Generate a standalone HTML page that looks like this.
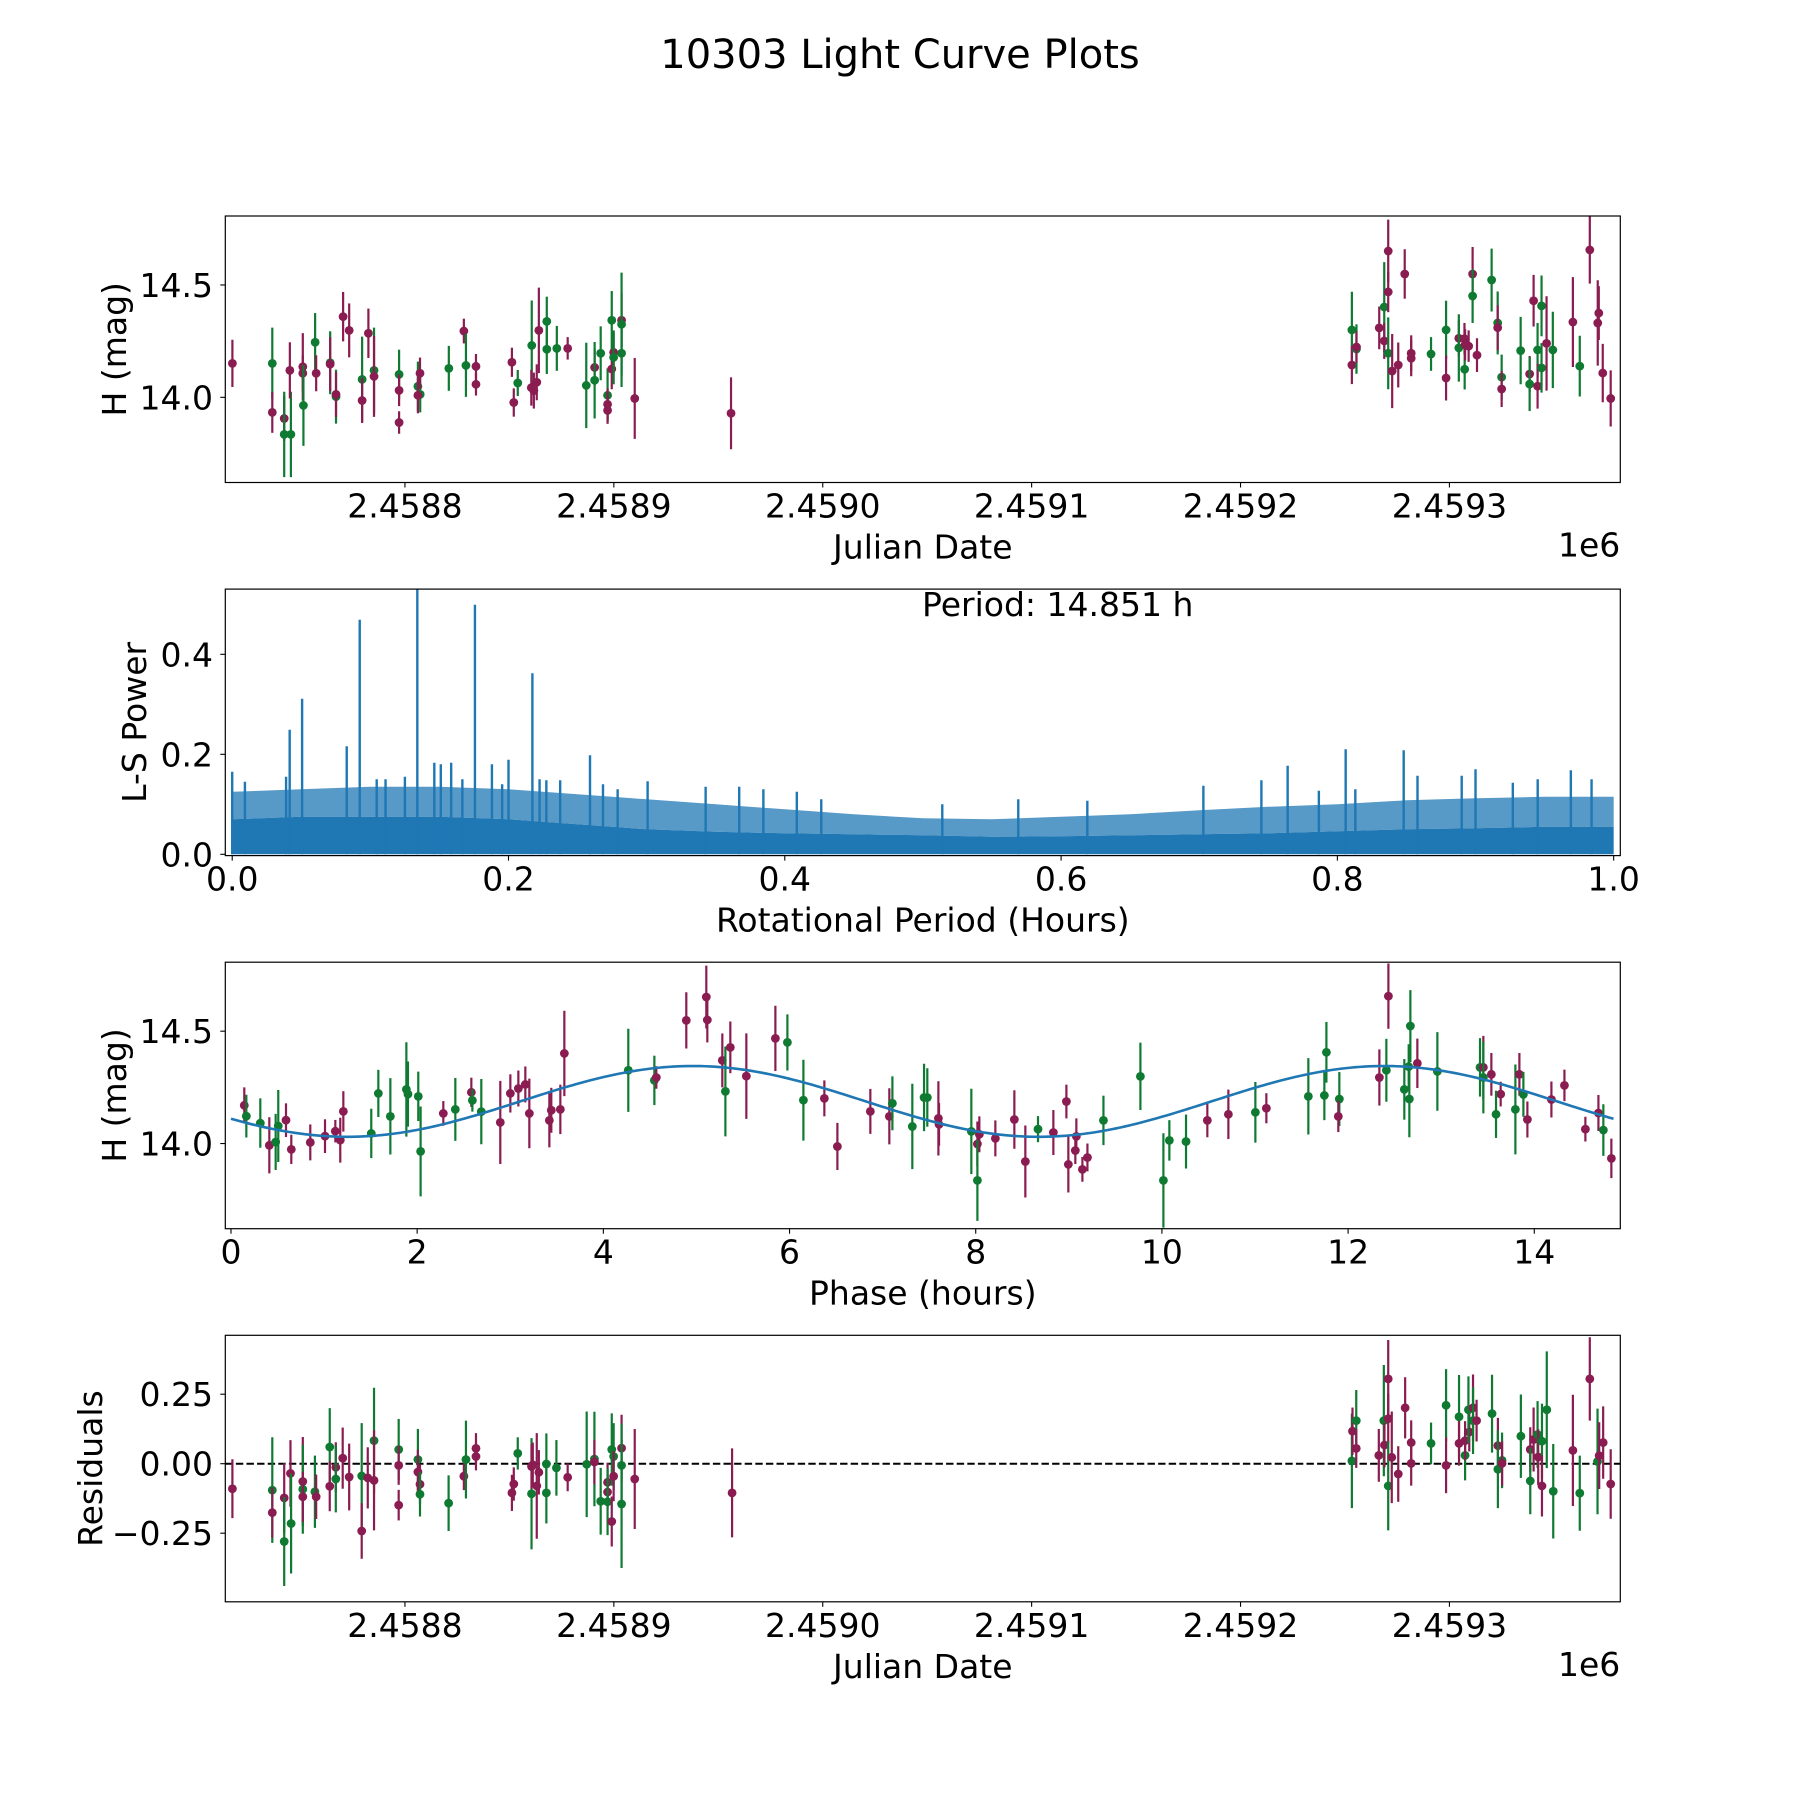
<!DOCTYPE html>
<html><head><meta charset="utf-8"><title>10303 Light Curve Plots</title>
<style>html,body{margin:0;padding:0;background:#fff}svg{display:block}text{font-family:"DejaVu Sans","Liberation Sans",sans-serif;fill:#000}</style>
</head><body>
<svg id="fig" xmlns="http://www.w3.org/2000/svg" width="1800" height="1800" viewBox="0 0 1800 1800">
<rect width="1800" height="1800" fill="#fff"/>
<text x="900" y="68" font-size="40" text-anchor="middle">10303 Light Curve Plots</text>
</svg>
<script>
// ---------- Panel 1: H magnitude vs Julian Date (JD - 2458000) ----------
const jd1 = [717.4,736.5,736.5,742.2,742.2,745.4,744.9,751.1,751.1,751.4,757.0,757.5,764.2,764.2,767.0,767.0,770.4,773.3,779.5,779.5,782.5,785.2,785.2,797.2,797.2,797.2,806.2,807.3,806.2,807.2,821.0,828.2,829.2,834.0,834.0,851.2,852.1,854.0,860.7,860.5,861.7,863.1,864.1,867.9,867.9,872.7,877.9,886.8,890.8,890.8,893.7,897.0,897.0,897.0,899.0,899.9,899.9,899.0,903.7,903.7,903.7,910.0,956.1,
1253.3,1253.3,1255.5,1255.5,1266.4,1268.8,1268.8,1270.7,1270.7,1270.7,1272.6,1275.5,1278.6,1281.7,1281.7,1291.2,1298.4,1298.4,1304.5,1304.5,1307.2,1307.3,1309.2,1307.5,1311.1,1311.1,1313.2,1320.2,1323.1,1323.1,1325.0,1325.0,1334.1,1338.4,1338.4,1340.3,1342.2,1342.2,1344.1,1344.1,1346.5,1349.5,1359.1,1362.4,1367.2,1371.0,1371.5,1373.4,1377.2];
const h1 = [14.151,14.151,13.933,13.906,13.835,13.835,14.120,14.136,14.107,13.964,14.245,14.107,14.154,14.148,14.003,14.013,14.359,14.298,14.080,13.986,14.285,14.120,14.093,14.102,14.031,13.888,14.049,14.013,14.009,14.107,14.129,14.295,14.142,14.138,14.058,14.156,13.977,14.064,14.231,14.043,14.030,14.067,14.298,14.338,14.214,14.218,14.218,14.053,14.133,14.076,14.196,14.009,13.969,13.942,14.126,14.200,14.178,14.343,14.343,14.325,14.196,13.995,13.929,
14.300,14.144,14.215,14.224,14.309,14.402,14.251,14.651,14.469,14.196,14.117,14.144,14.549,14.196,14.174,14.193,14.300,14.086,14.263,14.220,14.261,14.125,14.228,14.234,14.549,14.451,14.188,14.522,14.331,14.310,14.090,14.037,14.208,14.104,14.059,14.430,14.211,14.050,14.407,14.131,14.240,14.211,14.335,14.139,14.656,14.331,14.375,14.108,13.995];
const e1 = [.105,.159,.091,.10,.19,.19,.125,.15,.08,.18,.13,.08,.14,.12,.12,.1,.11,.12,.19,.1,.11,.19,.18,.11,.07,.05,.11,.08,.08,.07,.1,.055,.14,.055,.05,.065,.063,.058,.2,.08,.08,.08,.19,.11,.11,.1,.05,.19,.08,.17,.12,.12,.07,.06,.09,.09,.12,.13,.12,.23,.15,.18,.16,
.17,.085,.11,.07,.095,.2,.08,.14,.09,.16,.165,.1,.11,.08,.08,.075,.13,.1,.08,.15,.07,.09,.07,.07,.12,.12,.075,.14,.14,.1,.1,.08,.15,.08,.12,.115,.12,.1,.135,.11,.21,.17,.2,.135,.15,.19,.12,.13,.125];
const c1 = ("MGMMGGMMMGGMGMGMMMGMMGMGMMGGMMGMGMMMMGGMMMMGGGMGMGGGMMMMGGMGGMM" + "GMGMMGMMMGMMMMMGGMMGMGMMMGMGGMGMGMGMGMGGMGMGMMM").split("");

// ---------- Panel 2: Lomb-Scargle periodogram ----------
const perGridP = [0,0.05,0.1,0.15,0.2,0.25,0.3,0.35,0.4,0.45,0.5,0.55,0.6,0.65,0.7,0.75,0.8,0.85,0.9,0.95,1.0];
const perTop = [0.125,0.13,0.135,0.135,0.13,0.12,0.11,0.1,0.09,0.08,0.072,0.07,0.075,0.08,0.088,0.095,0.1,0.108,0.112,0.115,0.115];
const perFloor = [0.07,0.075,0.075,0.075,0.07,0.06,0.05,0.045,0.042,0.04,0.038,0.035,0.036,0.038,0.04,0.042,0.046,0.05,0.052,0.055,0.055];
const spikeP = [0.0,0.0092,0.039,0.0416,0.0506,0.0829,0.0923,0.1046,0.111,0.125,0.134,0.1463,0.151,0.1585,0.1666,0.1757,0.188,0.1954,0.2,0.2173,0.2225,0.2274,0.2374,0.259,0.2684,0.279,0.3007,0.3427,0.367,0.3845,0.4087,0.4264,0.514,0.569,0.619,0.703,0.745,0.764,0.7866,0.806,0.813,0.848,0.858,0.89,0.9,0.927,0.945,0.969,0.984];
const spikeV = [0.165,0.145,0.155,0.249,0.311,0.216,0.469,0.15,0.15,0.155,0.55,0.183,0.18,0.183,0.15,0.499,0.18,0.14,0.189,0.362,0.15,0.148,0.148,0.198,0.14,0.13,0.146,0.135,0.135,0.13,0.125,0.11,0.1,0.11,0.107,0.137,0.148,0.177,0.127,0.21,0.13,0.208,0.157,0.157,0.17,0.143,0.15,0.168,0.15];
const periodText = "Period: 14.851 h";

// ---------- Panel 3: phase-folded ----------
const ph3 = [.143,.165,.315,.412,.48,.508,.591,.648,.852,1.010,1.121,1.174,1.207,1.507,1.583,1.712,1.884,1.901,2.012,2.037,2.281,2.410,2.582,2.593,2.689,2.893,3.001,3.087,3.162,3.205,3.420,3.441,3.538,3.581,4.268,4.548,4.569,4.891,
5.106,5.117,5.278,5.311,5.364,5.536,5.848,5.977,6.149,6.374,6.514,6.868,7.072,7.105,7.319,7.445,7.480,7.599,7.606,7.953,8.018,8.039,8.018,8.211,8.415,8.533,8.669,8.834,8.974,8.995,9.081,9.070,9.146,9.200,9.372,9.769,
10.016,10.080,10.259,10.488,10.714,11.004,11.122,11.573,11.745,11.767,11.906,11.895,12.336,12.433,12.411,12.604,12.651,12.669,12.658,12.744,12.959,13.417,13.453,13.453,13.539,13.639,13.589,13.797,13.840,13.883,13.926,14.184,14.324,14.549,14.689,14.742,14.828];
const h3 = [14.170,14.122,14.091,13.992,14.007,14.078,14.104,13.974,14.005,14.033,14.055,14.015,14.143,14.045,14.223,14.121,14.241,14.220,14.210,13.965,14.134,14.152,14.228,14.192,14.142,14.094,14.223,14.245,14.263,14.134,14.103,14.148,14.152,14.401,14.326,14.281,14.294,14.548,
14.652,14.550,14.370,14.232,14.428,14.300,14.468,14.450,14.193,14.201,13.987,14.143,14.121,14.179,14.076,14.205,14.205,14.112,14.085,14.054,13.998,14.041,13.836,14.023,14.107,13.920,14.064,14.049,14.187,13.907,14.032,13.969,13.885,13.938,14.103,14.299,
13.836,14.014,14.009,14.103,14.130,14.139,14.157,14.210,14.214,14.406,14.198,14.121,14.294,14.656,14.326,14.241,14.342,14.523,14.198,14.357,14.321,14.339,14.339,14.294,14.308,14.220,14.130,14.152,14.308,14.219,14.107,14.196,14.259,14.064,14.136,14.060,13.934];
const e3 = [.08,.095,.11,.125,.125,.16,.075,.065,.08,.075,.05,.1,.09,.11,.105,.17,.21,.145,.11,.2,.055,.14,.065,.05,.145,.185,.085,.08,.08,.155,.12,.1,.11,.19,.185,.11,.05,.125,
.14,.1,.12,.2,.115,.19,.145,.125,.18,.08,.105,.1,.125,.12,.19,.15,.13,.165,.095,.19,.1,.08,.18,.08,.13,.16,.058,.1,.075,.125,.08,.06,.055,.062,.11,.15,
.21,.09,.12,.075,.11,.135,.067,.17,.11,.135,.12,.07,.125,.145,.14,.135,.1,.16,.17,.11,.175,.13,.14,.16,.095,.055,.105,.2,.095,.1,.08,.08,.07,.055,.08,.115,.088];
const c3 = ("MGGMGGMMMMMMMGGGGGGGMGMGGMMMMMMMMMGGMMM".slice(0,38) + "MMMGMMMGGMMMMGGGGMMGMMGMMMGMMMMMMMGG" + "GGGMMGMGGGGMMMGGGGGMGGMGMMGGMGMMMMMGM").split("");
const fitMean = 14.1875, fitAmp = 0.1575, fitHalfPeriod = 7.4255, fitMinPhase = 1.25, fitSpan = 14.851;

// ---------- Panel 4: residuals vs Julian Date ----------
const jd4 = [717.4,736.5,736.5,742.2,742.2,745.2,745.5,751.1,751.1,751.1,756.9,757.5,764.0,764.0,766.9,766.9,770.2,773.3,779.3,779.3,782.2,785.2,785.2,797.0,797.0,797.0,806.2,806.2,807.2,807.2,820.9,828.2,829.2,834.0,834.0,851.2,852.1,854.0,860.6,860.6,861.2,864.1,863.1,867.7,867.7,872.5,877.9,887.0,890.7,890.7,893.7,897.0,897.0,897.0,899.0,899.9,899.9,899.0,903.7,903.7,903.7,910.0,956.6,
1253.3,1253.6,1255.4,1255.4,1266.2,1268.6,1268.9,1270.7,1270.7,1270.7,1272.4,1275.5,1278.8,1281.7,1281.7,1291.2,1298.4,1298.4,1304.6,1304.6,1307.5,1307.5,1309.5,1309.1,1311.3,1311.3,1313.0,1320.4,1323.2,1323.2,1325.2,1325.2,1334.2,1338.7,1338.7,1340.3,1342.2,1342.5,1344.3,1344.3,1346.6,1349.7,1359.1,1362.4,1367.2,1370.9,1371.7,1373.6,1377.2];
const r4 = [-.090,-.095,-.176,-.123,-.28,-.035,-.215,-.064,-.092,-.119,-.101,-.119,.060,-.081,-.013,-.055,.020,-.048,-.044,-.242,-.051,.083,-.060,.051,-.006,-.149,.015,-.030,-.074,-.110,-.142,-.045,.015,.055,.026,-.105,-.073,.037,-.108,-.010,-.004,-.031,-.080,-.001,-.105,-.015,-.049,-.002,.017,.006,-.135,-.067,-.102,-.137,.051,.026,-.045,-.208,.056,-.006,-.145,-.055,-.105,
.010,.117,.155,.055,.030,.155,.067,.305,.162,-.080,.023,-.037,.201,.076,.001,.073,.210,-.006,.169,.073,.030,.083,.114,.194,.201,.155,.155,.180,.065,-.020,.012,.001,.099,.051,-.062,.087,.105,.024,.081,-.080,.194,-.099,.048,-.106,.305,.008,.029,.076,-.073];
const e4 = [.106,.19,.09,.125,.16,.12,.18,.16,.16,.09,.13,.08,.14,.09,.09,.12,.11,.12,.19,.1,.11,.19,.18,.11,.07,.055,.11,.08,.07,.08,.1,.05,.14,.055,.05,.065,.06,.058,.2,.08,.08,.08,.19,.11,.11,.1,.05,.19,.17,.08,.12,.07,.06,.12,.13,.12,.09,.09,.12,.15,.23,.18,.16,
.17,.085,.11,.07,.095,.2,.08,.14,.09,.16,.165,.1,.11,.08,.08,.075,.13,.1,.15,.08,.09,.07,.07,.12,.12,.12,.075,.14,.1,.14,.1,.08,.15,.08,.12,.115,.12,.1,.135,.11,.21,.17,.2,.135,.15,.19,.12,.13,.125];
const c4 = ("MGMMGMGMGMGMGMMGMMGMMGMGMMGMMGGMGMMMMGGMMMMGGGMGGMGMMGGGMMMGGMM" + "GMGMMGMMMGMMMMMGGMGMGMMGMGMGMGGMGMGMGMGMGGMGMGMMM").split("");

// tick arrays
const jdTicks = [800,900,1000,1100,1200,1300];
const hTicks = [14.0,14.5];
const perXTicks = [0,0.2,0.4,0.6,0.8,1.0];
const perYTicks = [0,0.2,0.4];
const phTicks = [0,2,4,6,8,10,12,14];
const resTicks = [0.25,0,-0.25];

const NS = "http://www.w3.org/2000/svg";
const svg = document.getElementById("fig");
const COL = {M:"#8a1c51", G:"#0f7a31"};
const X0 = 225.3, X1 = 1620.3;
function mk(tag, attrs, parent){ const el = document.createElementNS(NS, tag); for (const k in attrs) el.setAttribute(k, attrs[k]); (parent||svg).appendChild(el); return el; }
function lin(d0,d1,r0,r1){ return v => r0 + (v-d0)/(d1-d0)*(r1-r0); }

function makePanel(id, y0, y1, xd, yd){
  const g = mk("g", {});
  
  
  const cp = mk("clipPath", {id: id+"-clip"}, g);
  mk("rect", {x:X0, y:y0, width:X1-X0, height:y1-y0}, cp);
  const plot = mk("g", {"clip-path":"url(#"+id+"-clip)"}, g);
  
  
  return {g, plot, y0, y1, sx: lin(xd[0],xd[1],X0,X1), sy: lin(yd[0],yd[1],y1,y0)};
}
function frame(P, name){
  const r = mk("rect", {x:X0, y:P.y0, width:X1-X0, height:P.y1-P.y0, fill:"none", stroke:"#000", "stroke-width":1.2}, P.g);
  
  
}
function xTicks(P, vals, fmt, name){
  vals.forEach(v => {
    const x = P.sx(v);
    const t = mk("line", {x1:x, x2:x, y1:P.y1, y2:P.y1+5, stroke:"#000", "stroke-width":1.1}, P.g);
    
    
    const l = mk("text", {x:x, y:P.y1+35, "font-size":33, "text-anchor":"middle"}, P.g);
    l.textContent = fmt(v);
    
    
  });
}
function yTicks(P, vals, fmt, name){
  vals.forEach(v => {
    const y = P.sy(v);
    const t = mk("line", {x1:X0-5, x2:X0, y1:y, y2:y, stroke:"#000", "stroke-width":1.1}, P.g);
    
    
    const l = mk("text", {x:213, y:y+12, "font-size":33, "text-anchor":"end"}, P.g);
    l.textContent = fmt(v);
    
    
  });
}
function labels(P, xl, yl, ylx, name, offset){
  const a = mk("text", {x:(X0+X1)/2, y:P.y1+76, "font-size":33, "text-anchor":"middle"}, P.g);
  a.textContent = xl;
  
  
  const cy = (P.y0+P.y1)/2;
  const b = mk("text", {x:ylx, y:cy, "font-size":33, "text-anchor":"middle", transform:"rotate(-90 "+ylx+" "+cy+")"}, P.g);
  b.textContent = yl;
  
  
  if (offset){
    const o = mk("text", {x:X1, y:P.y1+74, "font-size":33, "text-anchor":"end"}, P.g);
    o.textContent = offset;
    
    
  }
}
function errPoints(P, xs, ys, es, cs, name){
  xs.forEach((xv,i) => {
    const x = P.sx(xv), y = P.sy(ys[i]);
    const c = COL[cs[i]] || COL.M;
    const g = mk("g", {}, P.plot);
    
    
    mk("line", {x1:x, x2:x, y1:P.sy(ys[i]+es[i]), y2:P.sy(ys[i]-es[i]), stroke:c, "stroke-width":2.2}, g);
    mk("circle", {cx:x, cy:y, r:4.4, fill:c}, g);
  });
}
const jdFmt = v => ((2458000+v)/1e6).toFixed(4);

// Panel 1
const P1 = makePanel("magnitude", 216, 482.5, [714.0,1381.8], [13.621,14.807]);
errPoints(P1, jd1, h1, e1, c1, "magnitude");
frame(P1, "magnitude");
xTicks(P1, jdTicks, jdFmt, "magnitude");
yTicks(P1, hTicks, v => v.toFixed(1), "magnitude");
labels(P1, "Julian Date", "H (mag)", 126, "magnitude", "1e6");

// Panel 2
const P2 = makePanel("periodogram", 589.1, 855.6, [-0.005,1.0048], [-0.0026,0.5304]);
(function(){
  let band = "", floor = "";
  perGridP.forEach((p,i) => { band += (i?"L":"M") + P2.sx(p) + "," + P2.sy(perTop[i]); });
  for (let i = perGridP.length-1; i >= 0; i--) band += "L" + P2.sx(perGridP[i]) + "," + P2.sy(perFloor[i]);
  band += "Z";
  perGridP.forEach((p,i) => { floor += (i?"L":"M") + P2.sx(p) + "," + P2.sy(perFloor[i]); });
  floor += "L" + P2.sx(perGridP[perGridP.length-1]) + "," + P2.sy(0) + "L" + P2.sx(perGridP[0]) + "," + P2.sy(0) + "Z";
  const b = mk("path", {d:band, fill:"#1f77b4", "fill-opacity":0.75}, P2.plot);
  
  
  const f = mk("path", {d:floor, fill:"#1f77b4"}, P2.plot);
  
  
  spikeP.forEach((p,i) => {
    const x = P2.sx(p);
    const s = mk("line", {x1:x, x2:x, y1:P2.sy(0), y2:P2.sy(spikeV[i]), stroke:"#1f77b4", "stroke-width":2.4}, P2.plot);
    
    
  });
})();
frame(P2, "periodogram");
xTicks(P2, perXTicks, v => v.toFixed(1), "periodogram");
yTicks(P2, perYTicks, v => v.toFixed(1), "periodogram");
labels(P2, "Rotational Period (Hours)", "L-S Power", 146, "periodogram");
(function(){
  const t = mk("text", {x:922, y:616, "font-size":33}, P2.g);
  t.textContent = periodText;
  
  
})();

// Panel 3
const P3 = makePanel("phase", 962.2, 1228.7, [-0.061,14.924], [13.621,14.807]);
errPoints(P3, ph3, h3, e3, c3, "phase");
(function(){
  let d = "";
  for (let k = 0; k <= 300; k++){
    const x = fitSpan*k/300;
    const y = fitMean - fitAmp*Math.cos(2*Math.PI*(x-fitMinPhase)/fitHalfPeriod);
    d += (k?"L":"M") + P3.sx(x).toFixed(2) + "," + P3.sy(y).toFixed(2);
  }
  const p = mk("path", {d:d, fill:"none", stroke:"#1f77b4", "stroke-width":2.6}, P3.plot);
  
  
})();
frame(P3, "phase");
xTicks(P3, phTicks, v => String(v), "phase");
yTicks(P3, hTicks, v => v.toFixed(1), "phase");
labels(P3, "Phase (hours)", "H (mag)", 126, "phase");

// Panel 4
const P4 = makePanel("residuals", 1335.3, 1601.8, [714.0,1381.8], [-0.4968,0.4619]);
(function(){
  const y = P4.sy(0);
  const l = mk("line", {x1:X0, x2:X1, y1:y, y2:y, stroke:"#000", "stroke-width":2, "stroke-dasharray":"7.4,3.2"}, P4.plot);
  
  
})();
errPoints(P4, jd4, r4, e4, c4, "residuals");
frame(P4, "residuals");
xTicks(P4, jdTicks, jdFmt, "residuals");
yTicks(P4, resTicks, v => (v<0?"\u2212":"") + Math.abs(v).toFixed(2), "residuals");
labels(P4, "Julian Date", "Residuals", 102, "residuals", "1e6");
</script>
</body></html>
